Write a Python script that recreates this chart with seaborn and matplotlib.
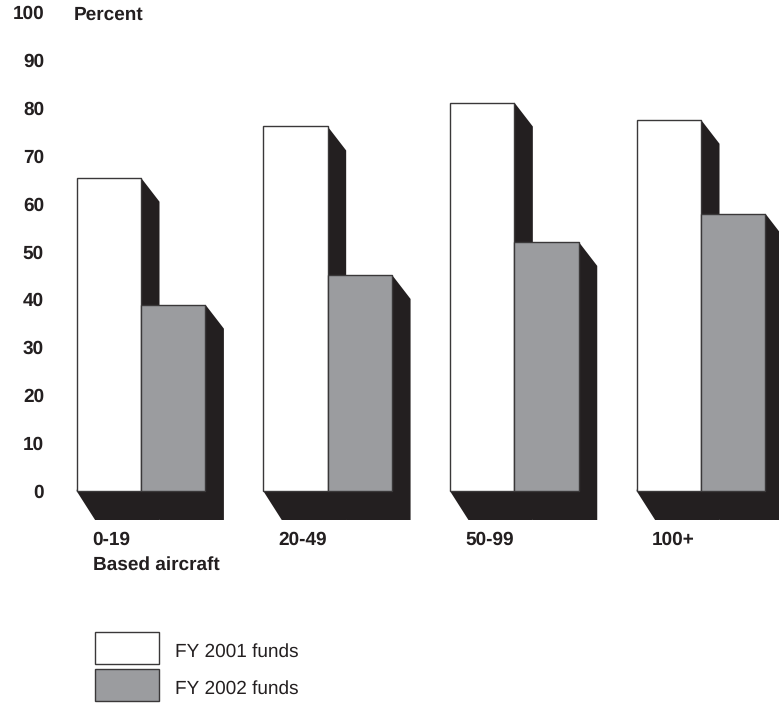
import pandas as pd
import matplotlib.pyplot as plt
from matplotlib.patches import Polygon
from matplotlib.transforms import ScaledTranslation
import seaborn as sns

# values
aircraft = ['0-19', '20-49', '50-99', '100+']
funds_2001 = [65.4, 76.1, 81.1, 77.5]
funds_2002 = [38.9, 45.1, 52.0, 57.9]
y_ticks = [0, 10, 20, 30, 40, 50, 60, 70, 80, 90, 100]

df = pd.DataFrame({
    'aircraft': aircraft * 2,
    'percent': funds_2001 + funds_2002,
    'year': ['FY 2001 funds'] * 4 + ['FY 2002 funds'] * 4,
})

W, H, DPI = 779, 704, 100
INK = '#231f20'
GRAY = '#9b9c9f'
PX_X = 186.67      # pixels per category
PX_Y = 4.79        # pixels per percent
FONT = 13.55

sns.set_theme(style='white')
plt.rcParams['font.family'] = ['Liberation Sans', 'DejaVu Sans']
plt.rcParams['text.hinting'] = 'none'
plt.rcParams['text.hinting_factor'] = 1

fig = plt.figure(figsize=(W / DPI, H / DPI), dpi=DPI, facecolor='white')
ax = fig.add_axes([60 / W, (H - 520) / H, (W - 60) / W, 520 / H])

sns.barplot(data=df, x='aircraft', y='percent', hue='year', ax=ax,
            palette=['white', GRAY], width=0.69, saturation=1,
            edgecolor='#3a3839', linewidth=1.0, zorder=3)

ax.set_xlim((60 - 141) / PX_X, (W - 141) / PX_X)
ax.set_ylim(-29 / PX_Y, 491 / PX_Y)

# the fake 3D shadow behind each bar, built from the bars seaborn drew
dx = 18.5 / PX_X
top_drop = 24 / PX_Y
floor = -29 / PX_Y
for bars in ax.containers:
    for bar in bars:
        x0 = bar.get_x()
        x1 = x0 + bar.get_width()
        h = bar.get_height()
        ax.add_patch(Polygon([(x0, 0), (x1, h), (x1 + dx, h - top_drop),
                              (x1 + dx, floor), (x0 + dx, floor)],
                             closed=True, facecolor=INK, edgecolor='none', zorder=2))

sns.despine(ax=ax, left=True, bottom=True)
ax.set_xlabel('')
ax.set_ylabel('')
ax.set_yticks(y_ticks)
ax.tick_params(axis='y', length=0, pad=11.5, labelsize=FONT, labelcolor=INK)
ax.tick_params(axis='x', length=0, pad=8, labelsize=FONT, labelcolor=INK)

for lab in ax.get_yticklabels():
    lab.set_fontweight('bold')
# category labels start left of the group centre
for lab in ax.get_xticklabels():
    lab.set_fontweight('bold')
    lab.set_ha('left')
    lab.set_transform(lab.get_transform() + ScaledTranslation(-49 / DPI, 0, fig.dpi_scale_trans))

fig.text(74 / W, 1 - 15 / H, 'Percent', fontsize=FONT, fontweight='bold', color=INK, va='center')
fig.text(93 / W, 1 - 565 / H, 'Based aircraft', fontsize=FONT, fontweight='bold', color=INK, va='center')

leg = ax.legend(loc='upper left', bbox_to_anchor=(95 / W, 1 - 632 / H),
                bbox_transform=fig.transFigure, frameon=False, borderpad=0, borderaxespad=0,
                fontsize=FONT, handlelength=3.4, handleheight=2.27, labelspacing=0.22,
                handletextpad=0.85)
for t in leg.get_texts():
    t.set_color(INK)
    t.set_y(-3)  # labels sit a little below the box centre

fig.savefig('out.png', dpi=DPI)
plt.close(fig)
